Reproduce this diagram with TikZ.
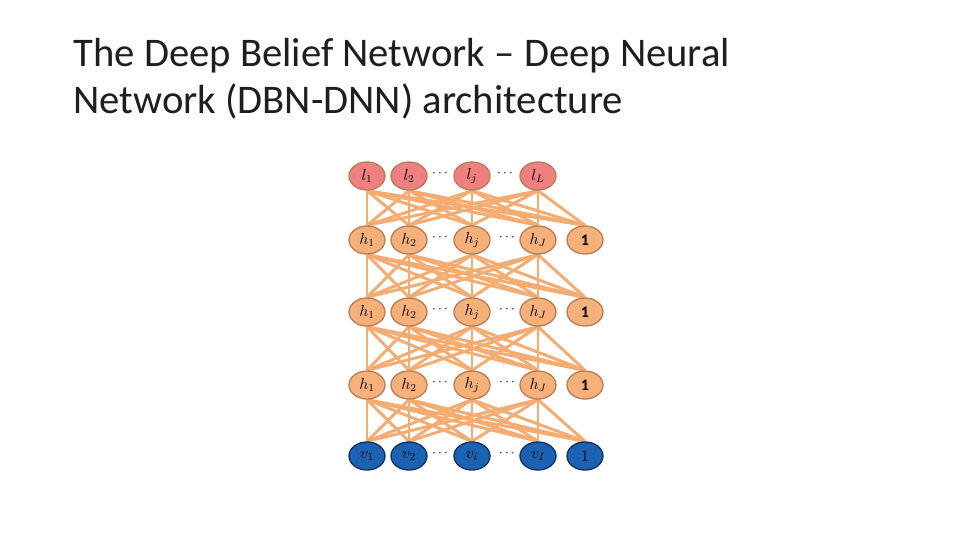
\documentclass[tikz,border=0pt]{standalone}
\usepackage{fontspec}
\setmainfont{Carlito}
\usetikzlibrary{shapes.geometric,backgrounds}
\definecolor{edgeor}{RGB}{246,172,112}
\definecolor{hidfill}{RGB}{246,176,122}
\definecolor{hidline}{RGB}{185,125,85}
\definecolor{outfill}{RGB}{238,128,128}
\definecolor{visfill}{RGB}{28,98,178}
\definecolor{visline}{RGB}{18,48,98}
\definecolor{titlegray}{RGB}{30,30,30}
\tikzset{every picture/.style={line width=0.75pt}}
\tikzset{
  unit/.style={ellipse,minimum width=27pt,minimum height=21pt,inner sep=0pt,line width=1pt,font=\large},
  hid/.style={unit,draw=hidline,fill=hidfill},
  outu/.style={unit,draw=hidline,fill=outfill},
  visu/.style={unit,draw=visline,fill=visfill},
  dots/.style={inner sep=0.75pt,font=\normalsize},
  wt/.style={draw=edgeor,line width=2.2pt}
}
\begin{document}
\begin{tikzpicture}[x=0.75pt,y=0.75pt,yscale=-1,xscale=1]
\useasboundingbox (0,0) rectangle (960,540);

% Title
\node[anchor=north west,inner sep=0pt,text=titlegray,font=\fontsize{30.5}{35}\selectfont,align=left] (title) at (73,38) {The Deep Belief Network -- Deep Neural\\Network (DBN-DNN) architecture};

% Output layer (row 0)
\node[outu] (n0-1) at (367,176) {$l_1$};
\node[outu] (n0-2) at (409,176) {$l_2$};
\node[outu] (n0-3) at (472,176) {$l_j$};
\node[outu] (n0-4) at (538,176) {$l_L$};
\node[dots] (ld1) at (440,174) {$\cdots$};
\node[dots] (ld2) at (505,174) {$\cdots$};

% Hidden layers (rows 1-3)
\foreach \r/\y in {1/240,2/312,3/385}{
  \node[hid] (n\r-1) at (367,\y) {$h_1$};
  \node[hid] (n\r-2) at (409,\y) {$h_2$};
  \node[hid] (n\r-3) at (472,\y) {$h_j$};
  \node[hid] (n\r-4) at (538,\y) {$h_J$};
  \node[hid] (n\r-5) at (585,\y) {$\mathbf{1}$};
  \node[dots] (hd1-\r) at (440,\y-2) {$\cdots$};
  \node[dots] (hd2-\r) at (507,\y-2) {$\cdots$};
}

% Visible layer (row 4)
\node[visu] (n4-1) at (367,456) {$v_1$};
\node[visu] (n4-2) at (409,456) {$v_2$};
\node[visu] (n4-3) at (472,456) {$v_i$};
\node[visu] (n4-4) at (538,456) {$v_I$};
\node[visu] (n4-5) at (585,456) {$1$};
\node[dots] (vd1) at (440,454) {$\cdots$};
\node[dots] (vd2) at (507,454) {$\cdots$};

% Weights
\begin{scope}[on background layer]
\foreach \ra/\rb in {0/1,1/2,2/3,3/4}{
  \foreach \a in {1,...,4}{
    \foreach \b in {1,...,5}{
      \draw[wt] (n\ra-\a.south) -- (n\rb-\b.north);
    }
  }
}
\end{scope}

\end{tikzpicture}
\end{document}
